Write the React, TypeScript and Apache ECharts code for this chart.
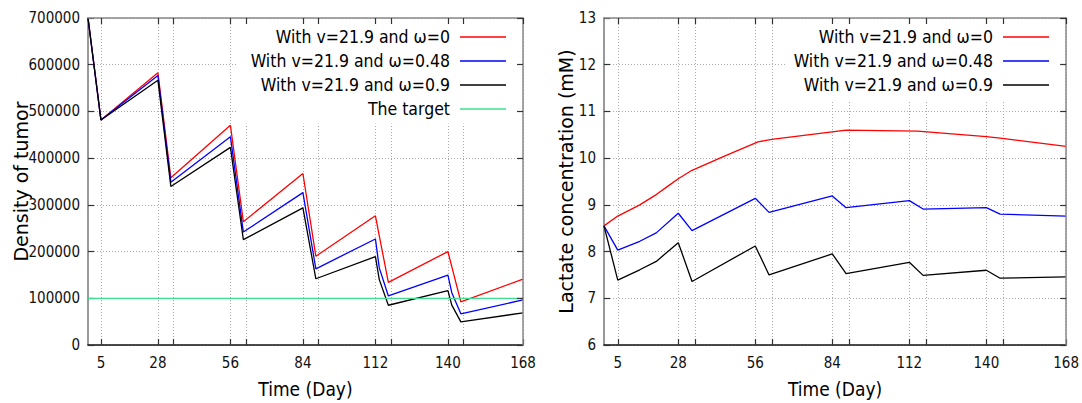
import { useEffect, useRef } from "react";
import * as echarts from "echarts";

// ---------- data ----------
const seriesNames = [
  "With v=21.9 and ω=0",
  "With v=21.9 and ω=0.48",
  "With v=21.9 and ω=0.9",
  "The target",
];
const seriesColors = ["#ff0000", "#0000ff", "#000000", "#3ee08f"];

// Left panel: density of tumor
const tumorW0Days = [1, 6, 28, 33, 56, 61, 84, 89, 112, 117, 140, 145, 169];
const tumorW0 = [700000, 481700, 582600, 357800, 470200, 263800, 367100, 190100, 276600, 134000, 200000, 92200, 141100];
const tumorDays = [1, 6, 28, 33, 56, 61, 84, 89, 112, 113.5, 117, 140, 141.5, 145, 169];
const tumorW048 = [700000, 481700, 576900, 348500, 445900, 241800, 326200, 163100, 227000, 165000, 105000, 149600, 112000, 66700, 96500];
const tumorW09 = [700000, 481700, 566900, 339200, 423000, 225500, 293600, 141800, 189400, 140000, 85100, 116300, 85300, 49600, 68800];
const targetDays = [1, 169];
const targetValues = [100000, 100000];

// Right panel: lactate concentration
const lactateW0Days = [1, 6, 14, 20, 24, 28, 33, 45, 57, 62, 89, 115, 140, 145, 169];
const lactateW0 = [8.55, 8.76, 9.0, 9.22, 9.39, 9.56, 9.74, 10.05, 10.35, 10.4, 10.6, 10.58, 10.46, 10.43, 10.25];
const lactateDays = [1, 6, 14, 20, 28, 33, 56, 61, 84, 89, 112, 117, 140, 145, 169];
const lactateW048 = [8.55, 8.03, 8.22, 8.4, 8.82, 8.45, 9.14, 8.84, 9.19, 8.94, 9.09, 8.91, 8.94, 8.8, 8.76];
const lactateW09 = [8.55, 7.39, 7.61, 7.79, 8.19, 7.36, 8.12, 7.5, 7.95, 7.53, 7.77, 7.49, 7.6, 7.43, 7.46];

// Axes
const xMin = 1;
const xMax = 169;
const xTickDays = [6, 28, 34, 56, 62, 84, 90, 112, 118, 140, 146, 169];
const xLabelDays = [6, 28, 56, 84, 112, 140, 169];
const xLabelTexts = ["5", "28", "56", "84", "112", "140", "168"];
const tumorAxis = { min: 0, max: 700000, interval: 100000 };
const lactateAxis = { min: 6, max: 13, interval: 1 };

const zip = (xs: number[], ys: number[]) => xs.map((x, i) => [x, ys[i]]);

const CONDENSED = "'DejaVu Sans Condensed', 'DejaVu Sans', sans-serif";
const NARROW = "'Liberation Sans Narrow', 'DejaVu Sans Condensed', sans-serif";
const REGULAR = "'DejaVu Sans', sans-serif";

function mainX(gridIndex: number) {
  return {
    type: "value",
    gridIndex,
    position: "bottom",
    min: xMin,
    max: xMax,
    axisLine: { show: true, onZero: false, lineStyle: { color: "#111", width: 1.5 } },
    axisTick: {
      show: true,
      inside: true,
      length: 6,
      customValues: xTickDays,
      lineStyle: { color: "#333", width: 1.2 },
    },
    axisLabel: {
      show: true,
      customValues: xLabelDays,
      showMinLabel: true,
      showMaxLabel: true,
      formatter: (v: number) => {
        const i = xLabelDays.indexOf(v);
        return i >= 0 ? xLabelTexts[i] : "";
      },
      margin: 10,
      fontSize: 15,
      fontFamily: NARROW,
      color: "#111",
    },
    splitLine: { show: true, lineStyle: { color: "#aaa", type: [1, 2], width: 1 } },
    name: "Time (Day)",
    nameLocation: "middle",
    nameGap: 34,
    nameMoveOverlap: false,
    nameTextStyle: { fontSize: 19, fontFamily: CONDENSED, color: "#000" },
  };
}

function mirrorX(gridIndex: number) {
  return {
    type: "value",
    gridIndex,
    position: "top",
    min: xMin,
    max: xMax,
    z: 3,
    axisLine: { show: true, onZero: false, lineStyle: { color: "#888", width: 1.5 } },
    axisTick: {
      show: true,
      inside: true,
      length: 6,
      customValues: xTickDays,
      lineStyle: { color: "#333", width: 1.2 },
    },
    axisLabel: { show: false },
    splitLine: { show: false },
  };
}

function mainY(gridIndex: number, ax: any, name: string, nameGap: number) {
  return {
    type: "value",
    gridIndex,
    position: "left",
    min: ax.min,
    max: ax.max,
    interval: ax.interval,
    axisLine: { show: true, onZero: false, lineStyle: { color: "#777", width: 1.5 } },
    axisTick: { show: true, inside: true, length: 6, lineStyle: { color: "#333", width: 1.2 } },
    axisLabel: {
      margin: 8,
      fontSize: 15,
      fontFamily: NARROW,
      color: "#111",
      formatter: (v: number) => String(v),
    },
    splitLine: { show: true, lineStyle: { color: "#aaa", type: [1, 2], width: 1 } },
    name,
    nameLocation: "middle",
    nameGap,
    nameMoveOverlap: false,
    nameTextStyle: { fontSize: 19, fontFamily: REGULAR, color: "#000" },
  };
}

function mirrorY(gridIndex: number, ax: any) {
  return {
    type: "value",
    gridIndex,
    position: "right",
    min: ax.min,
    max: ax.max,
    interval: ax.interval,
    z: 3,
    axisLine: { show: true, onZero: false, lineStyle: { color: "#888", width: 1.5 } },
    axisTick: { show: true, inside: true, length: 6, lineStyle: { color: "#333", width: 1.2 } },
    axisLabel: { show: false },
    splitLine: { show: false },
  };
}

function lineSeries(name: string, color: string, data: number[][], xi: number, yi: number) {
  return {
    type: "line",
    name,
    xAxisIndex: xi,
    yAxisIndex: yi,
    data,
    symbol: "none",
    showSymbol: false,
    z: 2,
    color,
    lineStyle: { color, width: 1.3 },
  };
}

function legendItem(name: string, right: number, top: number) {
  return {
    data: [name],
    orient: "vertical",
    align: "right",
    right,
    top,
    padding: 0,
    icon: "rect",
    itemWidth: 46,
    itemHeight: 1.5,
    selectedMode: false,
    textStyle: {
      fontSize: 17.5,
      fontFamily: CONDENSED,
      color: "#000",
      lineHeight: 20,
      padding: [0, 5, 0, 0],
    },
  };
}

const legendRowsLeft = [27, 51, 75, 99];
const legendRowsRight = [27, 51, 75];

export default function App() {
  const ref = useRef<HTMLDivElement>(null);

  useEffect(() => {
    if (!ref.current) return;
    const chart = echarts.init(ref.current, undefined, { renderer: "svg" });
    const option: any = {
      animation: false,
      backgroundColor: "#ffffff",
      textStyle: { fontFamily: REGULAR },
      grid: [
        { left: 88, top: 18, width: 435, height: 328 },
        { left: 604, top: 18, width: 463, height: 328 },
      ],
      xAxis: [mainX(0), mirrorX(0), mainX(1), mirrorX(1)],
      yAxis: [
        mainY(0, tumorAxis, "Density of tumor", 58),
        mirrorY(0, tumorAxis),
        mainY(1, lactateAxis, "Lactate concentration (mM)", 29),
        mirrorY(1, lactateAxis),
      ],
      legend: [
        ...seriesNames.map((n, i) => legendItem(n, 576, legendRowsLeft[i])),
        ...seriesNames.slice(0, 3).map((n, i) => legendItem(n, 33, legendRowsRight[i])),
      ],
      graphic: [
        { type: "rect", z: 1, silent: true, shape: { x: 237, y: 19.5, width: 278, height: 104 }, style: { fill: "#fff" } },
        { type: "rect", z: 1, silent: true, shape: { x: 786, y: 19.5, width: 276, height: 81 }, style: { fill: "#fff" } },
      ],
      series: [
        lineSeries(seriesNames[0], seriesColors[0], zip(tumorW0Days, tumorW0), 0, 0),
        lineSeries(seriesNames[1], seriesColors[1], zip(tumorDays, tumorW048), 0, 0),
        lineSeries(seriesNames[2], seriesColors[2], zip(tumorDays, tumorW09), 0, 0),
        lineSeries(seriesNames[3], seriesColors[3], zip(targetDays, targetValues), 0, 0),
        lineSeries(seriesNames[0], seriesColors[0], zip(lactateW0Days, lactateW0), 2, 2),
        lineSeries(seriesNames[1], seriesColors[1], zip(lactateDays, lactateW048), 2, 2),
        lineSeries(seriesNames[2], seriesColors[2], zip(lactateDays, lactateW09), 2, 2),
      ],
    };
    chart.setOption(option);
    return () => chart.dispose();
  }, []);

  return (
    <div
      ref={ref}
      style={{ position: "absolute", left: 0, top: 0, width: 1082, height: 403, background: "#fff" }}
    />
  );
}
